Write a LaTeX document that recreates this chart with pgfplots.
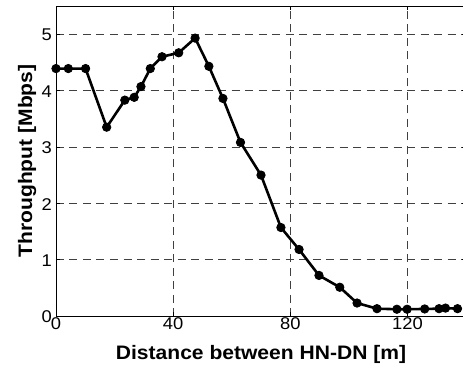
\documentclass[border=0pt]{standalone}
\usepackage{pgfplots}
\pgfplotsset{compat=1.18}
\usepackage{fontspec}
\setmainfont{Liberation Sans}[FakeStretch=1.08]

\begin{document}
\begin{tikzpicture}
\begin{axis}[
  at={(0,0)}, anchor=south west,
  scale only axis,
  width=410pt, height=310pt,
  xmin=0, xmax=140, ymin=0, ymax=5.5,
  xtick={0,40,80,120}, ytick={0,1,2,3,4,5},
  grid=major,
  major grid style={dash pattern=on 8pt off 5.5pt, line width=0.7pt, black!75},
  axis line style={line width=0.9pt},
  tick align=inside, major tick length=4pt,
  tick style={black, line width=0.7pt},
  /pgf/number format/assume math mode=true,
  ticklabel style={font=\fontsize{17}{19}\selectfont},
  xticklabel style={inner sep=1pt, yshift=-0.5pt},
  yticklabel style={inner sep=1pt, xshift=-3pt, yshift=-1pt},
  xlabel={Distance between HN-DN [m]},
  ylabel={Throughput [Mbps]},
  label style={font=\fontsize{19.5}{21}\selectfont\bfseries},
  xlabel style={at={(axis description cs:0.5,-0.139)}, anchor=base},
  ylabel style={at={(axis description cs:-0.0707,0.5)}, anchor=center},
  clip=false,
]
\addplot[black, line width=2.6pt, mark=*, mark size=4.2pt,
         mark options={fill=black, line width=0.8pt}]
  coordinates {
    (0,4.39) (4.2,4.39) (10.1,4.39) (17.3,3.35) (23.5,3.83) (26.7,3.88)
    (29,4.07) (32.2,4.39) (36.2,4.60) (41.9,4.67) (47.5,4.93) (52.2,4.43)
    (57,3.86) (63,3.08) (70,2.50) (76.8,1.57) (83,1.18) (89.8,0.72)
    (96.9,0.51) (102.8,0.23) (109.6,0.13) (116.4,0.12) (119.9,0.12)
    (125.9,0.125) (130.8,0.13) (133,0.14) (137.1,0.13)
  };
\end{axis}
\pgfresetboundingbox
\useasboundingbox (-56pt,-51pt) rectangle (407pt,316pt);
\end{tikzpicture}
\end{document}
